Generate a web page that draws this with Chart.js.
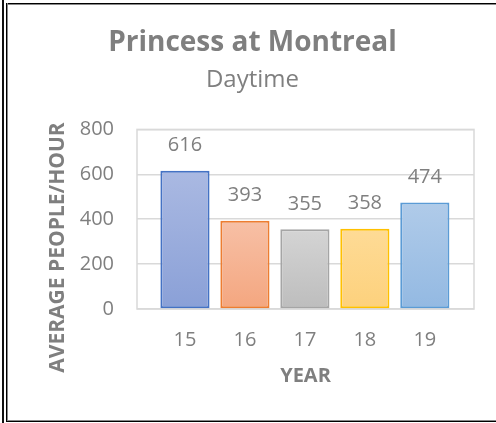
<!DOCTYPE html>
<html>
<head>
<meta charset="utf-8">
<script src="https://cdn.jsdelivr.net/npm/chart.js@4.4.0/dist/chart.umd.min.js"></script>
<style>
    html, body { margin: 0; background: #fff; overflow: hidden; }
    #wrap { position: relative; width: 496px; height: 423px; overflow: hidden; }
    #left-line { position: absolute; left: 2px; top: 0; width: 2px; height: 423px; background: #111; }
    #frame-top, #frame-bottom { position: absolute; left: 6px; width: 490px; height: 1px; background: #000; }
    #frame-top { top: 3px; border-bottom: 1px solid #888; }
    #frame-bottom { top: 420px; border-top: 1px solid #888; }
    #frame-left { position: absolute; left: 6px; top: 3px; width: 1px; height: 418px; background: #000; border-right: 1px solid #888; }
    #chart { position: absolute; left: 6px; top: 0; }
</style>
</head>
<body>
<div id="wrap">
    <div id="left-line"></div>
    <div id="frame-top"></div>
    <div id="frame-bottom"></div>
    <div id="frame-left"></div>
    <canvas id="chart" width="490" height="423"></canvas>
</div>
<script>
const years = ['15', '16', '17', '18', '19'];
const peoplePerHour = [616, 393, 355, 358, 474];
const yTicks = [0, 200, 400, 600, 800];

const topColors = ['#aab9e2', '#f7c0a6', '#d4d4d4', '#fedb96', '#b0cbe9'];
const bottomColors = ['#8aa0d7', '#f4a67f', '#bdbdbd', '#fdd17c', '#93b9e2'];
const borderColors = ['#4472c4', '#ed7d31', '#a5a5a5', '#ffc000', '#5b9bd5'];

const FONT = "'Open Sans', sans-serif";
const TEXT_GREY = '#7f7f7f';

// gradient from the top of each bar down to the axis
function barGradient(context) {
    const chart = context.chart;
    const area = chart.chartArea;
    if (!area || context.raw === undefined) return topColors[context.dataIndex];
    const yTop = chart.scales.y.getPixelForValue(context.raw.y);
    const g = chart.ctx.createLinearGradient(0, yTop, 0, area.bottom);
    g.addColorStop(0, topColors[context.dataIndex]);
    g.addColorStop(1, bottomColors[context.dataIndex]);
    return g;
}

// box round the plot area
const plotBorder = {
    id: 'plotBorder',
    beforeDatasetsDraw(chart) {
        const { ctx, chartArea } = chart;
        ctx.save();
        ctx.strokeStyle = '#d9d9d9';
        ctx.lineWidth = 1.5;
        ctx.strokeRect(chartArea.left, chartArea.top, chartArea.right - chartArea.left, chartArea.bottom - chartArea.top);
        ctx.restore();
    }
};

// value labels above the bars
const valueLabels = {
    id: 'valueLabels',
    afterDatasetsDraw(chart) {
        const { ctx } = chart;
        const meta = chart.getDatasetMeta(0);
        ctx.save();
        ctx.font = '20px ' + FONT;
        ctx.fillStyle = TEXT_GREY;
        ctx.textAlign = 'center';
        ctx.textBaseline = 'middle';
        meta.data.forEach((bar, i) => {
            ctx.fillText(String(peoplePerHour[i]), bar.x, bar.y - 25);
        });
        ctx.restore();
    }
};

// rotated y axis title
const yTitle = {
    id: 'yTitle',
    afterDraw(chart) {
        const { ctx } = chart;
        ctx.save();
        ctx.translate(52.5, 247.5);
        ctx.rotate(-Math.PI / 2);
        ctx.font = 'bold 21px ' + FONT;
        ctx.fillStyle = TEXT_GREY;
        ctx.textAlign = 'center';
        ctx.textBaseline = 'middle';
        ctx.fillText('AVERAGE PEOPLE/HOUR', 0, 0);
        ctx.restore();
    }
};

const chart = new Chart(document.getElementById('chart'), {
    type: 'bar',
    data: {
        datasets: [{
            data: peoplePerHour.map((v, i) => ({ x: i, y: v })),
            backgroundColor: barGradient,
            borderColor: borderColors,
            borderWidth: 2,
            borderSkipped: false,
            barPercentage: 0.82,
            categoryPercentage: 1
        }]
    },
    options: {
        responsive: false,
        animation: false,
        layout: { padding: { top: 18, bottom: 35, left: 25, right: 22 } },
        plugins: {
            legend: { display: false },
            tooltip: { enabled: false },
            title: {
                display: true,
                text: 'Princess at Montreal',
                color: TEXT_GREY,
                font: { family: FONT, size: 28, weight: 'bold' },
                padding: { top: 8, bottom: 2 }
            },
            subtitle: {
                display: true,
                text: 'Daytime',
                color: TEXT_GREY,
                font: { family: FONT, size: 24 },
                padding: { top: 4, bottom: 35 }
            }
        },
        scales: {
            x: {
                type: 'linear',
                offset: false,
                min: -0.8,
                max: 4.82,
                grid: { display: false, drawTicks: false },
                border: { display: false },
                afterBuildTicks(scale) {
                    scale.ticks = years.map((_, i) => ({ value: i }));
                },
                ticks: {
                    color: TEXT_GREY,
                    font: { family: FONT, size: 20 },
                    padding: 19,
                    maxRotation: 0,
                    autoSkip: false,
                    callback: (v) => years[v]
                },
                title: {
                    display: true,
                    text: 'YEAR',
                    color: TEXT_GREY,
                    font: { family: FONT, size: 20, weight: 'bold' },
                    padding: { top: -7, bottom: 0 }
                }
            },
            y: {
                min: 0,
                max: 800,
                afterBuildTicks(scale) {
                    scale.ticks = yTicks.map((v) => ({ value: v }));
                },
                afterFit(scale) {
                    scale.width = 106;
                },
                grid: { color: '#d9d9d9', lineWidth: 1.5, drawTicks: false },
                border: { display: false },
                ticks: {
                    color: TEXT_GREY,
                    font: { family: FONT, size: 20 },
                    padding: 23
                }
            }
        }
    },
    plugins: [plotBorder, valueLabels, yTitle]
});
</script>
</body>
</html>
